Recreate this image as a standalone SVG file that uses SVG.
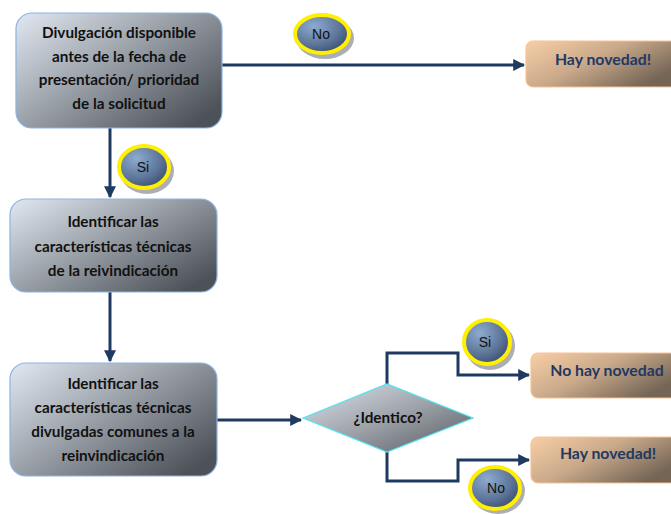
<svg xmlns="http://www.w3.org/2000/svg" width="671" height="514" viewBox="0 0 671 514">
  <defs>
    <linearGradient id="greyBox" x1="0" y1="0" x2="1" y2="0.8">
      <stop offset="0" stop-color="#e1e8f1"/>
      <stop offset="0.45" stop-color="#a0a6ae"/>
      <stop offset="1" stop-color="#4d5259"/>
    </linearGradient>
    <linearGradient id="tanBox" x1="0" y1="0" x2="1" y2="0.6">
      <stop offset="0" stop-color="#f8cfa6"/>
      <stop offset="0.5" stop-color="#c9a98a"/>
      <stop offset="1" stop-color="#746555"/>
    </linearGradient>
    <linearGradient id="diamondFill" x1="0" y1="0" x2="1" y2="1">
      <stop offset="0" stop-color="#dde3ec"/>
      <stop offset="0.5" stop-color="#9ea3aa"/>
      <stop offset="1" stop-color="#53575d"/>
    </linearGradient>
    <radialGradient id="badgeFill" cx="0.35" cy="0.3" r="0.8">
      <stop offset="0" stop-color="#8eabd0"/>
      <stop offset="0.6" stop-color="#5c7598"/>
      <stop offset="1" stop-color="#34486a"/>
    </radialGradient>
    <marker id="arrow" viewBox="0 0 10 10" refX="9" refY="5" markerWidth="4" markerHeight="4" orient="auto" markerUnits="strokeWidth">
      <path d="M0,0 L10,5 L0,10 z" fill="#1f3a60"/>
    </marker>
  </defs>
  <style>
    .box { fill: url(#greyBox); stroke: #8db3e2; stroke-width: 1.2; }
    .result { fill: url(#tanBox); stroke: #f7c393; stroke-width: 1.2; }
    .label { font-family: Lato, "Liberation Sans", sans-serif; font-weight: bold; font-size: 15.3px; fill: #111; text-anchor: middle; }
    .resultLabel { font-family: Lato, "Liberation Sans", sans-serif; font-weight: bold; font-size: 15.8px; fill: #1f3864; text-anchor: middle; }
    .link { fill: none; stroke: #1f3a60; stroke-width: 3; }
    .badge { fill: url(#badgeFill); stroke: #ffef00; stroke-width: 4; }
    .badgeShadow { fill: #8a8a95; opacity: 0.7; }
    .badgeText { font-family: "Liberation Sans", Arial, sans-serif; font-size: 14px; fill: #111; text-anchor: middle; }
  </style>

  <g id="connectors">
    <path class="link" d="M222,65 H524" marker-end="url(#arrow)"/>
    <path class="link" d="M110,128 V197" marker-end="url(#arrow)"/>
    <path class="link" d="M110,292 V361" marker-end="url(#arrow)"/>
    <path class="link" d="M217,420 H301" marker-end="url(#arrow)"/>
    <path class="link" d="M387,384 V353 H458 V375 H529" marker-end="url(#arrow)"/>
    <path class="link" d="M387,452 V481 H458 V460 H529" marker-end="url(#arrow)"/>
  </g>

  <g id="node-divulgacion">
    <rect class="box" x="16" y="13" width="206" height="115" rx="16"/>
    <text class="label" x="119" y="38">Divulgación disponible</text>
    <text class="label" x="119" y="62">antes de la fecha de</text>
    <text class="label" x="119" y="85">presentación/ prioridad</text>
    <text class="label" x="119" y="109">de la solicitud</text>
  </g>

  <g id="node-identificar-reivindicacion">
    <rect class="box" x="10" y="199" width="207" height="93" rx="16"/>
    <text class="label" x="113" y="227">Identificar las</text>
    <text class="label" x="113" y="252">características técnicas</text>
    <text class="label" x="113" y="276">de la reivindicación</text>
  </g>

  <g id="node-identificar-divulgadas">
    <rect class="box" x="10" y="363" width="207" height="113" rx="16"/>
    <text class="label" x="113" y="389">Identificar las</text>
    <text class="label" x="113" y="413">características técnicas</text>
    <text class="label" x="113" y="437">divulgadas comunes a la</text>
    <text class="label" x="113" y="461">reinvindicación</text>
  </g>

  <g id="node-identico">
    <polygon points="303,418 387,384 473,418 387,452" fill="url(#diamondFill)" stroke="#4fe3f0" stroke-width="1.2"/>
    <text class="label" x="388" y="423">¿Identico?</text>
  </g>

  <g id="node-hay-novedad-top">
    <rect class="result" x="526" y="41" width="152" height="46" rx="7"/>
    <text class="resultLabel" x="603" y="65">Hay novedad!</text>
  </g>

  <g id="node-no-hay-novedad">
    <rect class="result" x="531" y="353" width="147" height="45" rx="7"/>
    <text class="resultLabel" x="607" y="376">No hay novedad</text>
  </g>

  <g id="node-hay-novedad-bottom">
    <rect class="result" x="531" y="437" width="147" height="46" rx="7"/>
    <text class="resultLabel" x="608" y="459">Hay novedad!</text>
  </g>

  <g id="badge-no-top">
    <ellipse class="badgeShadow" cx="325" cy="38" rx="29" ry="21"/>
    <ellipse class="badge" cx="322" cy="34" rx="27" ry="19"/>
    <text class="badgeText" x="321" y="39">No</text>
  </g>

  <g id="badge-si-left">
    <ellipse class="badgeShadow" cx="147" cy="171" rx="27" ry="23"/>
    <ellipse class="badge" cx="144" cy="167" rx="25" ry="21"/>
    <text class="badgeText" x="143" y="172">Si</text>
  </g>

  <g id="badge-si-right">
    <ellipse class="badgeShadow" cx="490" cy="346" rx="25" ry="24"/>
    <ellipse class="badge" cx="487" cy="342" rx="23" ry="22"/>
    <text class="badgeText" x="485" y="347">Si</text>
  </g>

  <g id="badge-no-bottom">
    <ellipse class="badgeShadow" cx="498" cy="491" rx="27" ry="23"/>
    <ellipse class="badge" cx="495" cy="488" rx="25" ry="21"/>
    <text class="badgeText" x="496" y="493">No</text>
  </g>
</svg>
